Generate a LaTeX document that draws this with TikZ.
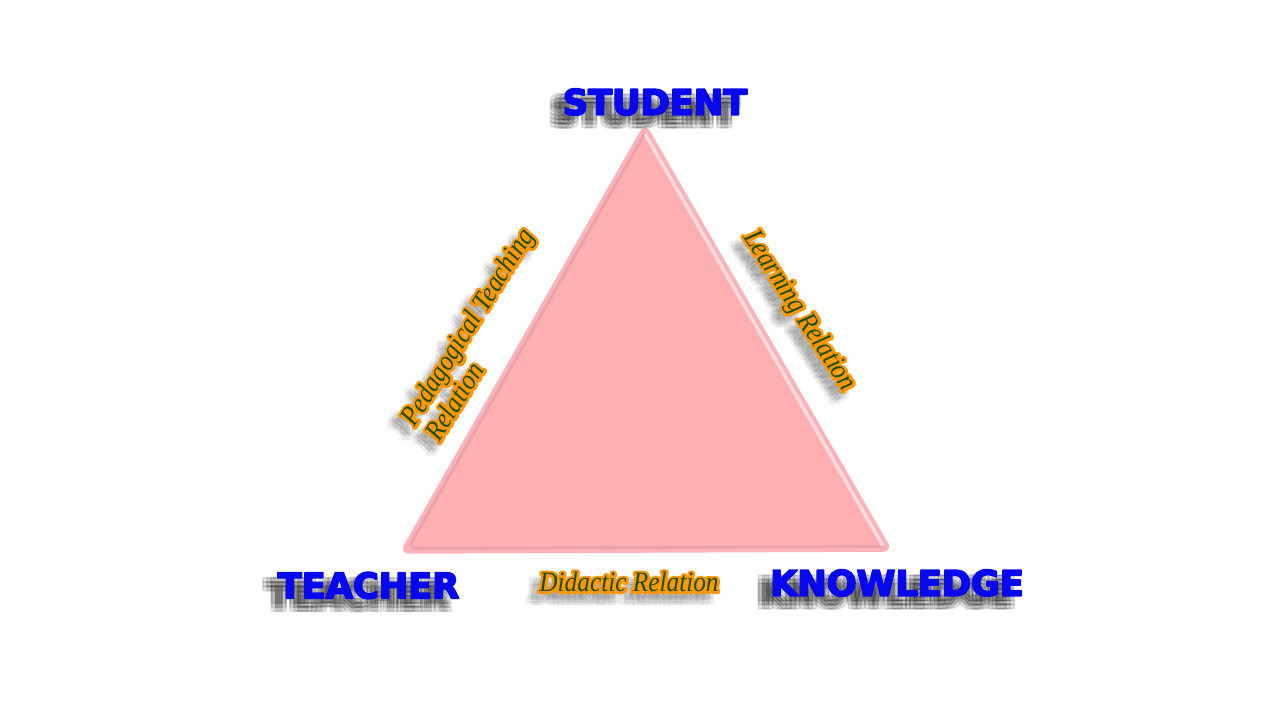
\documentclass[tikz,border=0pt]{standalone}
\usepackage{fontspec}
\usepackage{tikz}
\usetikzlibrary{calc}

\newfontfamily\capfont{DejaVu Sans}
\newfontfamily\relfont{Liberation Serif}[FakeStretch=0.9]

\definecolor{capblue}{RGB}{8,8,238}
\definecolor{relgreen}{RGB}{28,78,0}
\definecolor{relorange}{RGB}{255,152,0}
\definecolor{tripink}{RGB}{255,175,178}
\definecolor{triedge}{RGB}{250,180,185}
\definecolor{tribevel}{RGB}{200,140,146}

% text outline width (fill + stroke render mode)
\newcommand{\textstroke}[1]{\special{pdf:literal direct 2 Tr #1 w 1 j}}
\newcommand{\textplain}{\special{pdf:literal direct 0 Tr}}

\tikzset{
  stroked/.style={execute at begin node={\textstroke{#1}}, execute at end node={\textplain}},
  cornertext/.style={font=\capfont\bfseries\fontsize{10}{12}\selectfont, text=capblue, inner sep=0pt, stroked=0.5},
  cornershadow/.style={cornertext, text=black, opacity=0.09},
  reltext/.style={font=\relfont\itshape\fontsize{8}{8.3}\selectfont, text=relgreen, align=left, inner sep=0pt},
  relglow/.style={reltext, text=relorange, stroked=1.5},
  relshadow/.style={reltext, text=black, opacity=0.06, stroked=1.5},
}

% blue corner label with soft shadow
\newcommand{\cornerlabel}[3]{%
  \foreach \x in {-0.15,-0.11,-0.07}
    \foreach \y in {-0.13,-0.09,-0.05}
      \node[cornershadow] at ([shift={(\x,\y)}]#2) {#3};
  \node[cornertext] (#1) at (#2) {#3};
}
% outlined relation label
\newcommand{\rellabel}[4]{%
  \foreach \x in {-0.11,-0.06}
    \foreach \y in {-0.11,-0.06}
      \node[relshadow, rotate=#3] at ([shift={(\x,\y)}]#2) {#4};
  \node[relglow, rotate=#3] at (#2) {#4};
  \node[reltext, rotate=#3] (#1) at (#2) {#4};
}

\begin{document}
\begin{tikzpicture}
\useasboundingbox[fill=white] (0,0) rectangle (12.8,7.2);

% triangle
\coordinate (S) at (6.45,5.94);
\coordinate (T) at (4.02,1.68);
\coordinate (K) at (8.90,1.70);
\coordinate (G) at (barycentric cs:S=1,T=1,K=1);
\draw[triedge, fill=tripink, line width=1pt, rounded corners=2pt]
  (S) -- (T) -- (K) -- cycle;
\draw[tribevel, line width=0.8pt, opacity=0.35, rounded corners=2pt]
  ($(S)!0.025!(G)$) -- ($(T)!0.025!(G)$) -- ($(K)!0.025!(G)$);
\draw[white, line width=1pt, opacity=0.55]
  ($(S)!0.028!(G)$) -- ($(K)!0.028!(G)$);

% corners
\coordinate (stpos) at (6.55,6.18);
\coordinate (tepos) at (3.685,1.345);
\coordinate (knpos) at (8.97,1.37);
\cornerlabel{student}{stpos}{STUDENT}
\cornerlabel{teacher}{tepos}{TEACHER}
\cornerlabel{knowledge}{knpos}{KNOWLEDGE}

% relations
\coordinate (pedpos) at (4.79,3.86);
\coordinate (lrnpos) at (7.99,4.09);
\coordinate (didpos) at (6.29,1.38);
\rellabel{pedagogical}{pedpos}{58}{Pedagogical Teaching\\Relation}
\rellabel{learning}{lrnpos}{-57}{Learning Relation}
\rellabel{didactic}{didpos}{0}{Didactic Relation}

\end{tikzpicture}
\end{document}
